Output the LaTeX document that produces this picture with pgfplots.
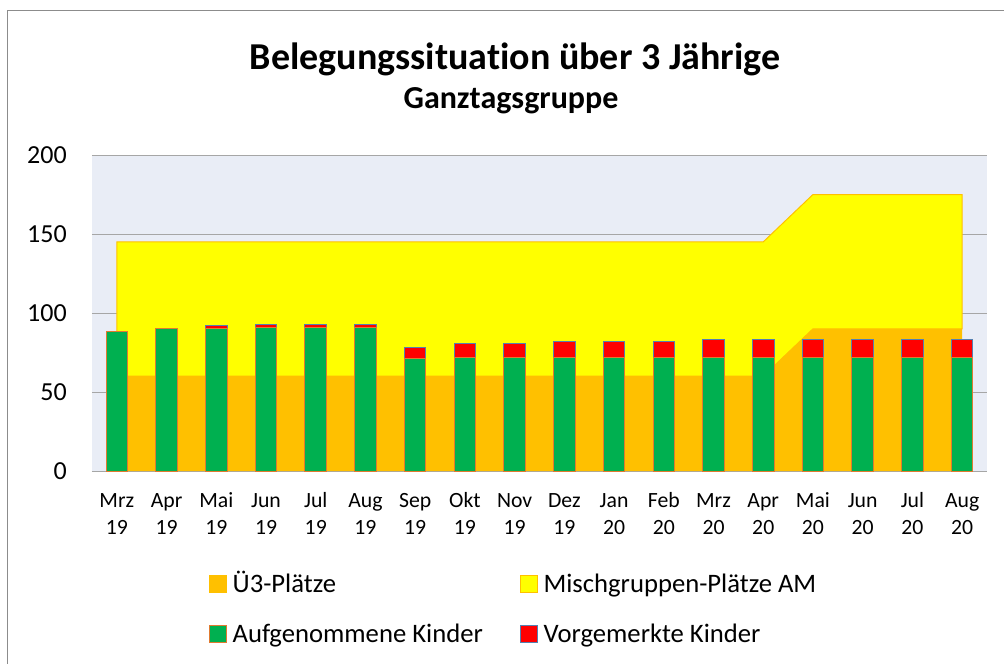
\documentclass[border=0pt]{standalone}
\usepackage{fontspec}
\setmainfont{Carlito}[Ligatures={NoCommon}]
\usepackage{pgfplots}
\usepackage{pgfplotstable}
\pgfplotsset{compat=1.18}
\definecolor{ueorange}{HTML}{FFC000}
\definecolor{misch}{HTML}{FFFF00}
\definecolor{aufg}{HTML}{00B050}
\definecolor{vorg}{HTML}{FF0000}
\definecolor{bgc}{HTML}{E9EDF6}
\definecolor{gridc}{HTML}{A6A6A6}
\definecolor{framec}{HTML}{8C8C8C}
\definecolor{aufgedge}{HTML}{E07A30}
\definecolor{vorgedge}{HTML}{5580B0}
\newcommand\TL[2]{\strut #1\\\strut #2}

\pgfplotstableread{
x ue misch aufg vorg
0 60 85 88 0
1 60 85 90 0
2 60 85 90 2
3 60 85 91 2
4 60 85 91 2
5 60 85 91 2
6 60 85 71 7
7 60 85 72 9
8 60 85 72 9
9 60 85 72 10
10 60 85 72 10
11 60 85 72 10
12 60 85 72 11
13 60 85 72 11
14 90 85 72 11
15 90 85 72 11
16 90 85 72 11
17 90 85 72 11
}\datatable

\pgfplotsset{
  base/.style={at={(69pt,-353.25pt)}, anchor=south west, width=671.25pt, height=237pt,
    scale only axis, xmin=-0.5, xmax=17.5, ymin=0, ymax=200},
  sq/.style={legend image code/.code={\draw[##1] (0pt,-6.25pt) rectangle (12.5pt,6.25pt);}},
}

\begin{document}
\begin{tikzpicture}
\begin{scope}[x=0.75pt,y=-0.75pt]
\useasboundingbox (0,0) rectangle (1004,664);
\draw[framec, line width=0.75pt] (7.5,664) -- (7.5,10.5) -- (1004,10.5);
\node[anchor=base, font=\bfseries\fontsize{28.5}{30}\selectfont, inner sep=0pt] at (515,69) {Belegungssituation über 3 Jährige};
\node[anchor=base, font=\bfseries\fontsize{24}{26}\selectfont, inner sep=0pt] at (511,108) {Ganztagsgruppe};
\end{scope}

\begin{axis}[base,
  axis background/.style={fill=bgc},
  stack plots=y,
  axis x line*=bottom, axis y line*=left,
  x axis line style={draw=gridc, line width=0.75pt, -},
  y axis line style={draw=none},
  major tick length=0pt,
  ymajorgrids, grid style={draw=gridc, line width=0.75pt},
  ytick={0,50,100,150,200},
  xtick={0,...,17},
  xticklabels={{\TL{Mrz}{19}},{\TL{Apr}{19}},{\TL{Mai}{19}},{\TL{Jun}{19}},{\TL{Jul}{19}},{\TL{Aug}{19}},{\TL{Sep}{19}},{\TL{Okt}{19}},{\TL{Nov}{19}},{\TL{Dez}{19}},{\TL{Jan}{20}},{\TL{Feb}{20}},{\TL{Mrz}{20}},{\TL{Apr}{20}},{\TL{Mai}{20}},{\TL{Jun}{20}},{\TL{Jul}{20}},{\TL{Aug}{20}}},
  /pgf/number format/assume math mode=true,
  yticklabel style={font=\fontsize{19.5}{20}\selectfont, anchor=east, inner sep=0pt, xshift=-18.75pt},
  xticklabel style={font=\fontsize{16.3}{20.25}\selectfont, align=center, anchor=north, inner sep=0pt,
    yshift=-12.8pt},
]
\addplot[fill=ueorange, draw=none] table[x=x,y=ue]{\datatable} \closedcycle;
\addplot[fill=misch, draw=ueorange, line width=0.75pt] table[x=x,y=misch]{\datatable} \closedcycle;
\end{axis}

\begin{axis}[base, hide axis, ybar stacked, bar width=16.2pt,
  legend columns=2,
  legend cell align=left,
  legend style={at={(0.1307,-0.330)}, anchor=north west, draw=none, fill=none,
    inner sep=0pt, outer sep=0pt, font=\fontsize{20}{24}\selectfont,
    nodes={inner sep=0pt, text height=12.5pt, text depth=0pt},
    row sep=24.25pt,
    /tikz/every odd column/.append style={column sep=4.5pt},
    /tikz/every even column/.append style={column sep=27.75pt}},
]
\addlegendimage{sq, fill=ueorange, draw=ueorange, line width=0.75pt}
\addlegendentry{Ü3-Plätze}
\addlegendimage{sq, fill=misch, draw=ueorange, line width=0.75pt}
\addlegendentry{Mischgruppen-Plätze AM}
\addplot[sq, fill=aufg, draw=aufgedge, line width=0.75pt] table[x=x,y=aufg]{\datatable};
\addlegendentry{Aufgenommene Kinder}
\addplot[sq, fill=vorg, draw=vorgedge, line width=0.75pt] table[x=x,y=vorg]{\datatable};
\addlegendentry{Vorgemerkte Kinder}
\end{axis}
\end{tikzpicture}
\end{document}
